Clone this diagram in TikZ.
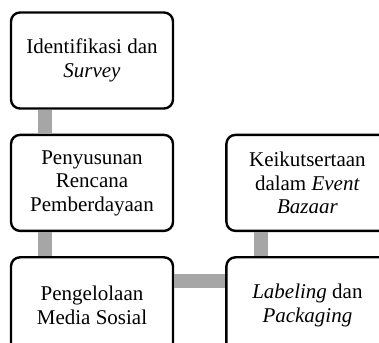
\documentclass[tikz,border=0pt]{standalone}
\usepackage{fontspec}
\setmainfont{Liberation Serif}
\usetikzlibrary{positioning}

\begin{document}
\begin{tikzpicture}[main/.style = {draw, line width=2.4pt, rounded corners=9pt, fill=white,
        minimum width=162pt, minimum height=96pt, align=center,
        font=\fontsize{21}{23.5}\selectfont},
    link/.style = {draw=black!35, line width=14pt}]
            \useasboundingbox (0,0) rectangle (379pt,342pt);
            \clip (0,0) rectangle (379pt,342pt);
            \node[main] (1) at (92pt,281.5pt) {Identifikasi dan\\\textit{Survey}};
            \node[main] (2) [below=24pt of 1] {Penyusunan\\Rencana\\Pemberdayaan};
            \node[main] (4) [below=24pt of 2] {Pengelolaan\\Media Sosial};
            \node[main] (5) [right=51pt of 4] {\textit{Labeling} dan\\\textit{Packaging}};
            \node[main] (3) [above=24pt of 5] {Keikutsertaan\\dalam \textit{Event}\\\textit{Bazaar}};
            \draw[link] ([xshift=-47pt]1.south) -- ([xshift=-47pt]2.north);
                \draw[link] ([xshift=-47pt]2.south) -- ([xshift=-47pt]4.north);
                \draw[link] ([yshift=24pt]4.east) -- ([yshift=24pt]5.west);
                \draw[link] ([xshift=-46pt]5.north) -- ([xshift=-46pt]3.south);
        \end{tikzpicture}
\end{document}
